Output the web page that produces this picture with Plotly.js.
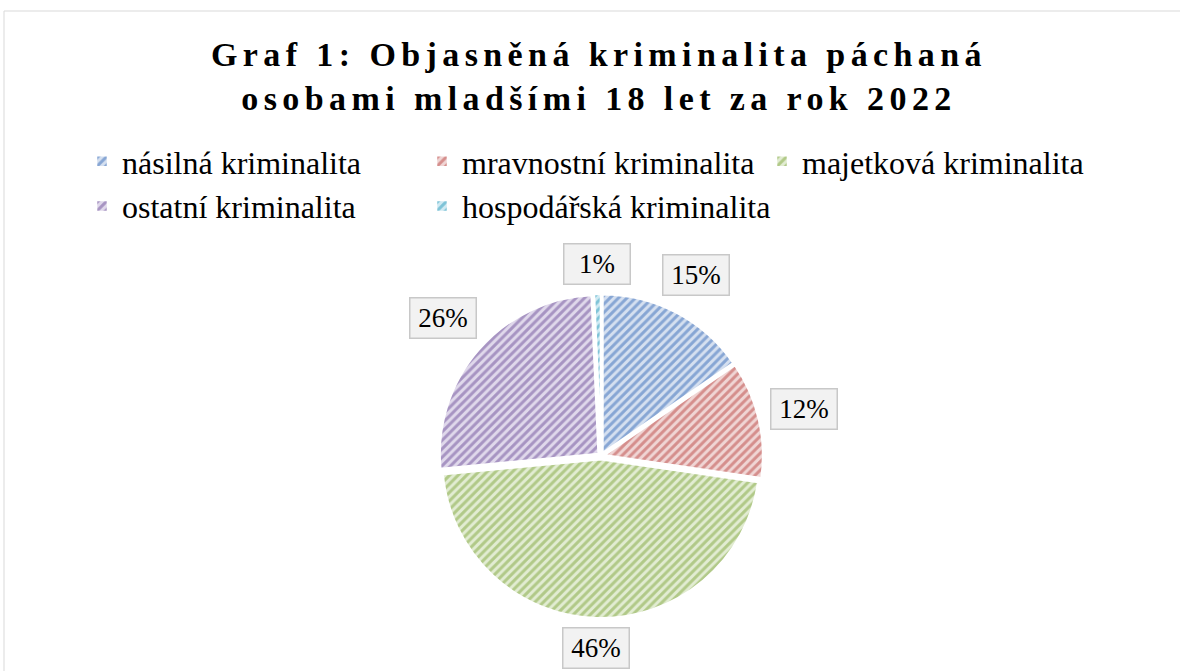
<!DOCTYPE html>
<html>
<head>
<meta charset="utf-8">
<script src="https://cdn.plot.ly/plotly-3.0.1.min.js"></script>
<style>
  html, body { margin: 0; padding: 0; background: #fff; }
  #chart { width: 1180px; height: 671px; }
  .gtitle { letter-spacing: 5.4px; }
</style>
</head>
<body>
<div id="chart"></div>
<script>
// ---- data ----
const categories = [
  "násilná kriminalita",
  "mravnostní kriminalita",
  "majetková kriminalita",
  "ostatní kriminalita",
  "hospodářská kriminalita"
];
const shares = [15.4, 11.9, 46.2, 25.8, 0.7];
const fgColors = ["#3a6cb8", "#b94744", "#7fa63d", "#6e4f9a", "#2b9bbb"];
const bgColors = ["#d5e0f0", "#f0d5d4", "#e2ecd2", "#e0d8eb", "#d0eaf3"];
const titleText = "Graf 1: Objasněná kriminalita páchaná<br>osobami mladšími 18 let za rok 2022";

// ---- geometry ----
const W = 1180, H = 671;
const cx = 601, cy = 456, R = 159, pull = 0.02;
const half = R * (1 + pull);

const total = shares.reduce((a, b) => a + b, 0);
const boxW = 65, boxH = 39, gap = 10;
let cum = 0;
const annotations = shares.map((v, i) => {
  const mid = (cum + v / 2) / total * 2 * Math.PI;
  cum += v;
  const s = Math.sin(mid), c = Math.cos(mid);
  const d = R + R * pull + gap + Math.abs(s) * boxW / 2 + Math.abs(c) * boxH / 2;
  const px = cx + d * s, py = cy - d * c;
  return {
    xref: "paper", yref: "paper",
    x: px / W, y: 1 - py / H,
    xanchor: "center", yanchor: "middle",
    text: Math.round(v / total * 100) + "%",
    showarrow: false,
    font: { family: "Liberation Serif, Times New Roman, serif", size: 27, color: "#000" },
    bgcolor: "#f2f2f2", bordercolor: "#c8c8c8", borderwidth: 1.5,
    width: boxW, height: boxH, borderpad: 0
  };
});

const trace = {
  type: "pie",
  labels: categories,
  values: shares,
  sort: false,
  direction: "clockwise",
  rotation: 0,
  pull: shares.map(() => pull),
  textinfo: "none",
  hoverinfo: "label+percent",
  domain: { x: [(cx - half) / W, (cx + half) / W], y: [1 - (cy + half) / H, 1 - (cy - half) / H] },
  marker: {
    colors: bgColors,
    line: { color: "#ffffff", width: 2.5 },
    pattern: { shape: "/", fgcolor: fgColors, bgcolor: bgColors, size: 6, solidity: 0.5, fillmode: "overlay" }
  }
};

const layout = {
  width: W, height: H,
  margin: { l: 0, r: 0, t: 0, b: 0, autoexpand: false },
  paper_bgcolor: "#ffffff",
  title: {
    text: titleText,
    font: { family: "Liberation Serif, Times New Roman, serif", size: 34, color: "#000", weight: "bold" },
    x: 0.5 + 9 / W, xanchor: "center", xref: "paper",
    y: 1 - 66 / H, yanchor: "top", yref: "container"
  },
  showlegend: true,
  legend: {
    orientation: "h",
    x: 82 / W, xanchor: "left",
    y: 1 - 134 / H, yanchor: "top",
    entrywidth: 295, entrywidthmode: "pixels",
    font: { family: "Liberation Serif, Times New Roman, serif", size: 32, color: "#000" },
    traceorder: "normal"
  },
  annotations: annotations,
  shapes: [{
    type: "rect", xref: "paper", yref: "paper",
    x0: 4 / W, x1: 1.01, y0: -0.02, y1: 1 - 11 / H,
    line: { color: "#d9d9d9", width: 1 }, fillcolor: "rgba(0,0,0,0)", layer: "below"
  }]
};

Plotly.newPlot("chart", [trace], layout, { displayModeBar: false, staticPlot: true });
</script>
</body>
</html>
